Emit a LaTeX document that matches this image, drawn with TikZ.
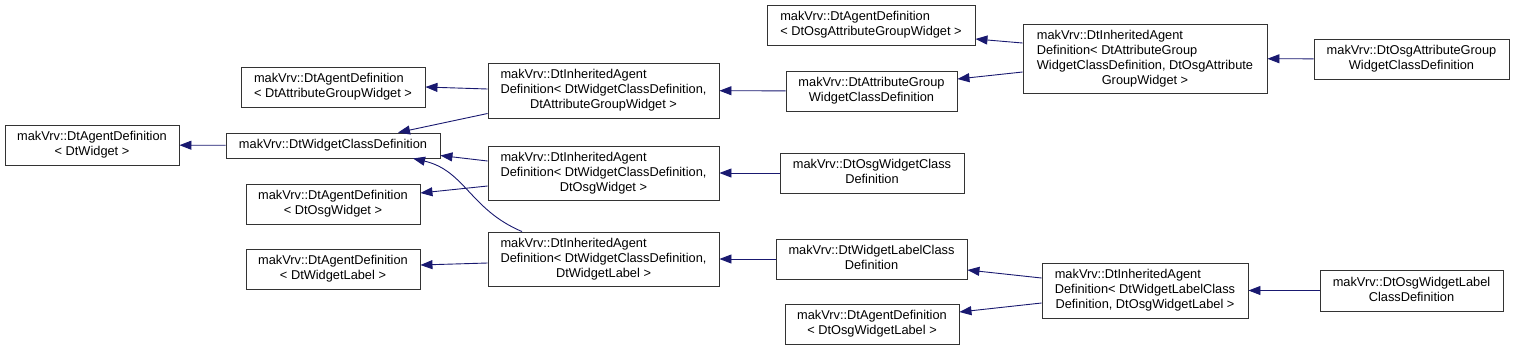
\documentclass[tikz,border=0pt]{standalone}
\usepackage{fontspec}
\setmainfont{Liberation Sans}
\usetikzlibrary{arrows.meta,calc}
\definecolor{edgeblue}{HTML}{191970}
\newcommand{\lastc}[1]{\multicolumn{1}{@{}c@{}}{#1}}
\newcommand{\cls}[1]{\begin{tabular}{@{}l@{}}#1\end{tabular}}

\begin{document}
\begin{tikzpicture}[->,>={Triangle[length=12pt,width=9pt]},x=1pt,y=-1pt,
  box/.style={draw=black!80,rectangle,line width=0.9pt,inner sep=2pt,
              font=\fontsize{12.8}{15}\selectfont},
  inherit/.style={draw=edgeblue,line width=0.9pt}]
\useasboundingbox (0,0) rectangle (1515,349);
\node[box,minimum width=174pt,minimum height=40pt] (dtw) at (92,145) {\cls{\lastc{makVrv::DtAgentDefinition}\\\lastc{< DtWidget >}}};
\node[box,minimum width=214pt,minimum height=25pt] (wcd) at (333,145.5) {makVrv::DtWidgetClassDefinition};
\node[box,minimum width=184pt,minimum height=40pt] (agw) at (333,87) {\cls{makVrv::DtAgentDefinition\\\lastc{< DtAttributeGroupWidget >}}};
\node[box,minimum width=174pt,minimum height=40pt] (aow) at (333,204) {\cls{\lastc{makVrv::DtAgentDefinition}\\\lastc{< DtOsgWidget >}}};
\node[box,minimum width=174pt,minimum height=40pt] (awl) at (333,269) {\cls{\lastc{makVrv::DtAgentDefinition}\\\lastc{< DtWidgetLabel >}}};
\node[box,minimum width=231pt,minimum height=55pt] (inh1) at (603.5,90.5) {\cls{makVrv::DtInheritedAgent\\Definition< DtWidgetClassDefinition,\\\lastc{DtAttributeGroupWidget >}}};
\node[box,minimum width=231pt,minimum height=54pt] (inh2) at (603.5,173) {\cls{makVrv::DtInheritedAgent\\Definition< DtWidgetClassDefinition,\\\lastc{DtOsgWidget >}}};
\node[box,minimum width=231pt,minimum height=54pt] (inh3) at (603.5,259) {\cls{makVrv::DtInheritedAgent\\Definition< DtWidgetClassDefinition,\\\lastc{DtWidgetLabel >}}};
\node[box,minimum width=171pt,minimum height=40pt] (agcd) at (871.5,91) {\cls{makVrv::DtAttributeGroup\\\lastc{WidgetClassDefinition}}};
\node[box,minimum width=184pt,minimum height=40pt] (owcd) at (872,173) {\cls{makVrv::DtOsgWidgetClass\\\lastc{Definition}}};
\node[box,minimum width=191pt,minimum height=40pt] (wlcd) at (871.5,259) {\cls{makVrv::DtWidgetLabelClass\\\lastc{Definition}}};
\node[box,minimum width=174pt,minimum height=40pt] (aowl) at (872,324) {\cls{makVrv::DtAgentDefinition\\\lastc{< DtOsgWidgetLabel >}}};
\node[box,minimum width=208pt,minimum height=40pt] (aoagw) at (871,25) {\cls{makVrv::DtAgentDefinition\\\lastc{< DtOsgAttributeGroupWidget >}}};
\node[box,minimum width=244pt,minimum height=69pt] (inh4) at (1145,58.5) {\cls{makVrv::DtInheritedAgent\\Definition< DtAttributeGroup\\WidgetClassDefinition, DtOsgAttribute\\\lastc{GroupWidget >}}};
\node[box,minimum width=195pt,minimum height=40pt] (oagcd) at (1411.5,59) {\cls{makVrv::DtOsgAttributeGroup\\\lastc{WidgetClassDefinition}}};
\node[box,minimum width=206pt,minimum height=55pt] (inh5) at (1145,290.5) {\cls{makVrv::DtInheritedAgent\\Definition< DtWidgetLabelClass\\\lastc{Definition, DtOsgWidgetLabel >}}};
\node[box,minimum width=183pt,minimum height=41pt] (owlcd) at (1411.5,290.5) {\cls{makVrv::DtOsgWidgetLabel\\\lastc{ClassDefinition}}};
% derived -> base
\draw[inherit] (wcd) -- (dtw);
\draw[inherit] ($(inh1.west)+(0,-1.5)$) -- (agw.east);
\draw[inherit] ($(inh1.west)+(0,23)$) -- ($(wcd.north)+(65,0)$);
\draw[inherit] ($(inh2.west)+(0,-12)$) -- ($(wcd.east)+(0,10)$);
\draw[inherit] ($(inh2.west)+(0,13)$) -- ($(aow.east)+(0,-11)$);
\draw[inherit] ($(inh3.north)+(-81.5,0)$) .. controls +(-52,-22) and +(52,12) .. ($(wcd.south)+(80,0)$);
\draw[inherit] ($(inh3.west)+(0,4)$) -- ($(awl.east)+(0,-4)$);
\draw[inherit] (agcd) -- (inh1); \draw[inherit] (owcd) -- (inh2); \draw[inherit] (wlcd) -- (inh3);
\draw[inherit] ($(inh4.west)+(0,-15.5)$) -- ($(aoagw.east)+(0,14)$);
\draw[inherit] ($(inh4.west)+(0,13.5)$) -- ($(agcd.east)+(0,-12)$);
\draw[inherit] (oagcd) -- (inh4);
\draw[inherit] ($(inh5.west)+(0,-12.5)$) -- ($(wlcd.east)+(0,11)$);
\draw[inherit] ($(inh5.west)+(0,12.5)$) -- ($(aowl.east)+(0,-12)$);
\draw[inherit] (owlcd) -- (inh5);
\end{tikzpicture}
\end{document}
